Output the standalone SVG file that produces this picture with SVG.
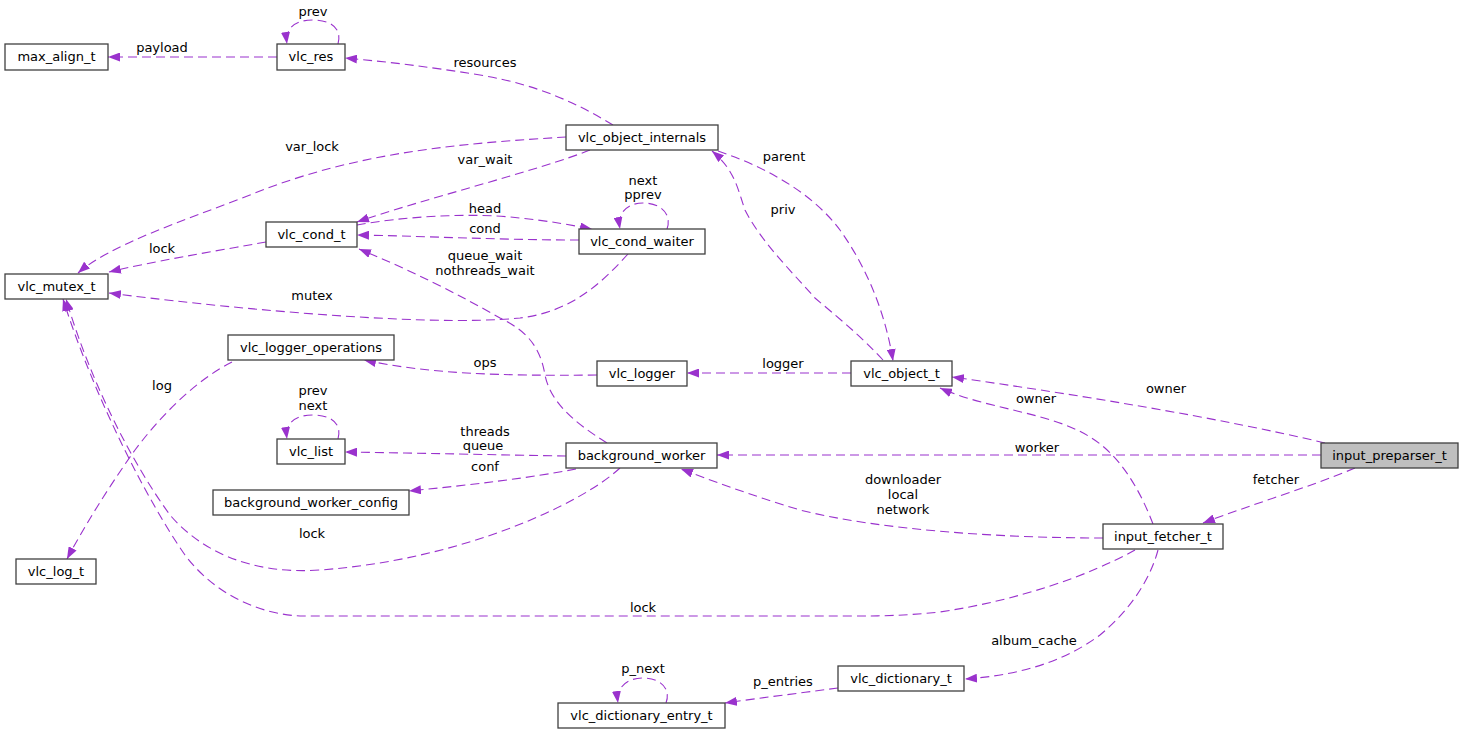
<svg xmlns="http://www.w3.org/2000/svg" width="1463" height="735" viewBox="0 0 1463 735">
<style>
text{font-family:"DejaVu Sans","Liberation Sans",sans-serif;font-size:13px;fill:#000;text-anchor:middle}
.node rect{fill:#fff;stroke:#404040;stroke-width:1.3}
.node.hl rect{fill:#bfbfbf}
.edges path{fill:none;stroke:#9a32cd;stroke-width:1.1;stroke-dasharray:9,5;marker-end:url(#arr)}
</style>
<defs>
<marker id="arr" viewBox="0 0 12 9" refX="12" refY="4.5" markerWidth="12" markerHeight="9" markerUnits="userSpaceOnUse" orient="auto">
<path d="M0,0 L12,4.5 L0,9 z" fill="#9a32cd" stroke="none"/>
</marker>
</defs>
<rect width="1463" height="735" fill="#fff"/>
<g class="edges" id="edges">
<path d="M277,57 L108,57"/>
<path d="M338,44 C342,30 333,20 313,20 C295,20 285,28 287,44"/>
<path d="M613,125 C580,105 540,85 480,75 C430,67 390,62 345,58"/>
<path d="M566,137 C470,143 360,150 250,195 C180,222 110,245 78,273"/>
<path d="M590,150 C540,170 420,200 357,222"/>
<path d="M266,242 C210,252 150,262 109,272"/>
<path d="M357,225 C400,217 470,212 520,218 C550,221 570,225 592,229"/>
<path d="M579,240 C500,240 420,236 357,235"/>
<path d="M667,229 C672,215 662,203 643,203 C628,203 617,212 620,229"/>
<path d="M628,254 C600,285 570,312 520,318 C420,328 200,305 109,293"/>
<path d="M607,443 C570,420 550,400 545,375 C540,345 525,330 500,318 C460,295 410,270 359,249"/>
<path d="M883,360 C860,335 835,315 815,298 C790,270 760,240 745,210 C738,190 735,170 712,151"/>
<path d="M718,151 C760,165 810,190 840,230 C865,265 885,310 893,361"/>
<path d="M851,373 L687,373"/>
<path d="M597,375 C500,376 430,374 364,360"/>
<path d="M232,362 C200,378 165,410 135,450 C110,485 85,525 67,559"/>
<path d="M1325,443 C1220,418 1080,395 952,377"/>
<path d="M1321,455 L717,455"/>
<path d="M1355,468 C1310,487 1250,505 1203,523"/>
<path d="M1153,524 C1140,490 1120,455 1090,437 C1050,412 990,410 940,388"/>
<path d="M1103,538 C1000,538 880,530 800,510 C750,495 710,480 681,469"/>
<path d="M1135,550 C1090,575 1020,600 940,612 C900,616 880,616 850,616 L300,616 C260,614 215,595 185,555 C150,505 95,400 63,299"/>
<path d="M620,468 C580,505 460,560 320,570 C250,575 200,550 170,515 C130,460 90,380 66,299"/>
<path d="M566,456 C500,455 420,453 345,452"/>
<path d="M576,469 C530,478 470,485 409,491"/>
<path d="M338,439 C342,425 333,415 313,415 C295,415 285,423 287,439"/>
<path d="M1158,550 C1150,580 1130,610 1100,635 C1060,665 1010,676 965,679"/>
<path d="M838,688 C800,693 760,698 725,703"/>
<path d="M666,703 C671,690 662,678 643,678 C626,678 616,688 618,703"/>
</g>
<g id="edge-labels">
<text x="162" y="52">payload</text>
<text x="313" y="16">prev</text>
<text x="485" y="67">resources</text>
<text x="312" y="151">var_lock</text>
<text x="485" y="164">var_wait</text>
<text x="162" y="253">lock</text>
<text x="485" y="213">head</text>
<text x="485" y="233">cond</text>
<text x="643" y="185">next</text>
<text x="643" y="199">pprev</text>
<text x="312" y="300">mutex</text>
<text x="485" y="260">queue_wait</text>
<text x="485" y="275">nothreads_wait</text>
<text x="784" y="161">parent</text>
<text x="783" y="214">priv</text>
<text x="783" y="368">logger</text>
<text x="485" y="367">ops</text>
<text x="162" y="390">log</text>
<text x="1166" y="393">owner</text>
<text x="1036" y="403">owner</text>
<text x="1037" y="452">worker</text>
<text x="1276" y="484">fetcher</text>
<text x="903" y="484">downloader</text>
<text x="903" y="499">local</text>
<text x="903" y="514">network</text>
<text x="643" y="612">lock</text>
<text x="312" y="538">lock</text>
<text x="485" y="436">threads</text>
<text x="483" y="450">queue</text>
<text x="485" y="471">conf</text>
<text x="313" y="395">prev</text>
<text x="313" y="410">next</text>
<text x="1034" y="645">album_cache</text>
<text x="783" y="686">p_entries</text>
<text x="643" y="673">p_next</text>
</g>
<g id="input_preparser_t" class="node hl"><rect x="1321" y="443" width="137" height="25"/><text x="1389.5" y="460">input_preparser_t</text></g>
<g id="vlc_object_t" class="node"><rect x="851" y="361" width="101" height="25"/><text x="901.5" y="378">vlc_object_t</text></g>
<g id="vlc_object_internals" class="node"><rect x="566" y="125" width="152" height="25"/><text x="642" y="142">vlc_object_internals</text></g>
<g id="vlc_res" class="node"><rect x="277" y="44" width="68" height="26"/><text x="311" y="61">vlc_res</text></g>
<g id="max_align_t" class="node"><rect x="5" y="44" width="103" height="26"/><text x="56.5" y="61">max_align_t</text></g>
<g id="vlc_mutex_t" class="node"><rect x="5" y="274" width="103" height="25"/><text x="56.5" y="291">vlc_mutex_t</text></g>
<g id="vlc_cond_t" class="node"><rect x="266" y="222" width="91" height="25"/><text x="311.5" y="239">vlc_cond_t</text></g>
<g id="vlc_cond_waiter" class="node"><rect x="579" y="229" width="126" height="25"/><text x="642" y="246">vlc_cond_waiter</text></g>
<g id="vlc_logger" class="node"><rect x="597" y="361" width="90" height="25"/><text x="642" y="378">vlc_logger</text></g>
<g id="vlc_logger_operations" class="node"><rect x="228" y="335" width="166" height="25"/><text x="311" y="352">vlc_logger_operations</text></g>
<g id="vlc_log_t" class="node"><rect x="16" y="559" width="80" height="25"/><text x="56" y="576">vlc_log_t</text></g>
<g id="background_worker" class="node"><rect x="566" y="443" width="151" height="25"/><text x="641.5" y="460">background_worker</text></g>
<g id="vlc_list" class="node"><rect x="277" y="439" width="68" height="25"/><text x="311" y="456">vlc_list</text></g>
<g id="background_worker_config" class="node"><rect x="213" y="490" width="196" height="25"/><text x="311" y="507">background_worker_config</text></g>
<g id="input_fetcher_t" class="node"><rect x="1103" y="524" width="120" height="25"/><text x="1163" y="541">input_fetcher_t</text></g>
<g id="vlc_dictionary_t" class="node"><rect x="838" y="666" width="126" height="25"/><text x="901" y="683">vlc_dictionary_t</text></g>
<g id="vlc_dictionary_entry_t" class="node"><rect x="558" y="703" width="167" height="25"/><text x="641.5" y="720">vlc_dictionary_entry_t</text></g>
</svg>
